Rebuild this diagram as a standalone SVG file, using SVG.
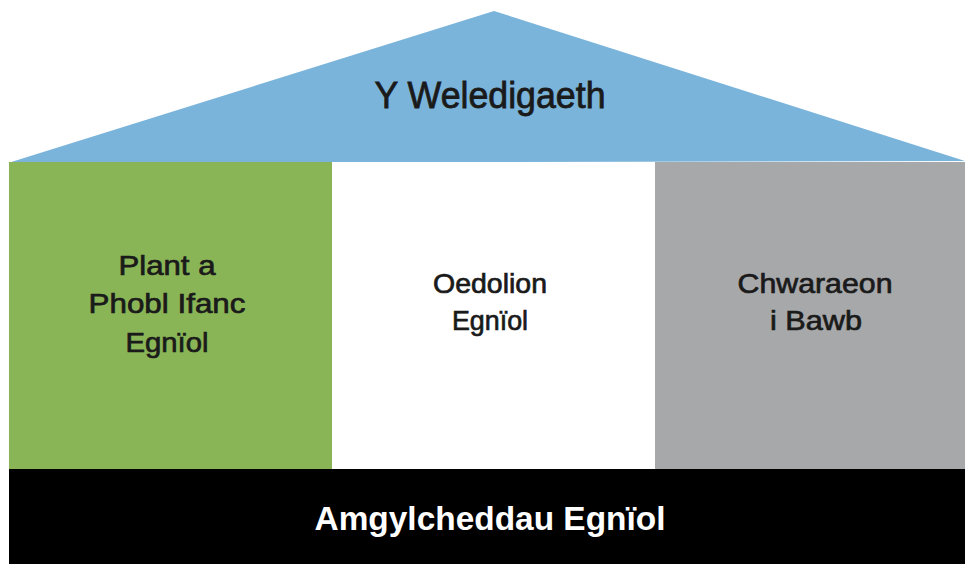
<svg xmlns="http://www.w3.org/2000/svg" width="965" height="564" viewBox="0 0 965 564">
<style>
.t{font-family:"Liberation Sans",Arial,sans-serif;text-anchor:middle;fill:#1a1a1a}
.c{font-size:28px;font-weight:normal;stroke:#1a1a1a;stroke-width:0.7px}
.r{font-size:37px;font-weight:normal;stroke:#1a1a1a;stroke-width:0.8px}
.b{font-size:33px;font-weight:bold;fill:#ffffff}
</style>
<rect width="965" height="564" fill="#ffffff"/>
<g id="roof">
<polygon points="8,163 494,11 965,161" fill="#7ab4db"/>
<text class="t r" x="490" y="108" textLength="231" lengthAdjust="spacingAndGlyphs">Y Weledigaeth</text>
</g>
<g id="col1">
<rect x="9" y="162" width="323" height="307" fill="#8ab556"/>
<text class="t c" x="167" y="275" textLength="97" lengthAdjust="spacingAndGlyphs">Plant a</text>
<text class="t c" x="167" y="313" textLength="157" lengthAdjust="spacingAndGlyphs">Phobl Ifanc</text>
<text class="t c" x="167" y="352" textLength="83" lengthAdjust="spacingAndGlyphs">Egnïol</text>
</g>
<g id="col2">
<rect x="332" y="162" width="323" height="307" fill="#ffffff"/>
<text class="t c" x="490" y="293" textLength="114" lengthAdjust="spacingAndGlyphs">Oedolion</text>
<text class="t c" x="490" y="330" textLength="76" lengthAdjust="spacingAndGlyphs">Egnïol</text>
</g>
<g id="col3">
<rect x="655" y="162" width="310" height="307" fill="#a7a8aa"/>
<text class="t c" x="815" y="293" textLength="155" lengthAdjust="spacingAndGlyphs">Chwaraeon</text>
<text class="t c" x="816" y="330" textLength="92" lengthAdjust="spacingAndGlyphs">i Bawb</text>
</g>
<g id="base">
<rect x="9" y="469" width="956" height="95" fill="#000000"/>
<text class="t b" x="490" y="530" textLength="351" lengthAdjust="spacingAndGlyphs">Amgylcheddau Egnïol</text>
</g>
<g id="connectors"/>
</svg>
